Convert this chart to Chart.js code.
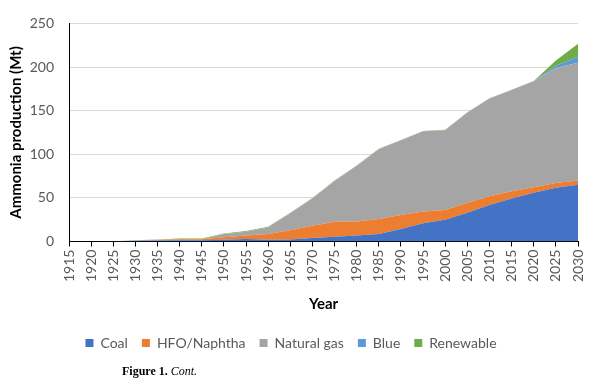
<!DOCTYPE html>
<html>
<head>
<meta charset="utf-8">
<script src="https://cdn.jsdelivr.net/npm/chart.js@4"></script>
<style>
    body { margin: 0; background: #ffffff; }
    #wrap { position: relative; width: 600px; height: 384px; }
    #caption {
        position: absolute; left: 122px; top: 364px;
        font-family: "Liberation Serif", "DejaVu Serif", serif; font-size: 12px; color: #000;
    }
</style>
</head>
<body>
<div id="wrap">
    <canvas id="ammoniaChart" width="600" height="384"></canvas>
    <div id="caption"><b>Figure 1.</b> <i>Cont.</i></div>
</div>
<script>
// values (Mt), stacked bottom to top
const years = [1915, 1920, 1925, 1930, 1935, 1940, 1945, 1950, 1955, 1960, 1965, 1970,
               1975, 1980, 1985, 1990, 1995, 2000, 2005, 2010, 2015, 2020, 2025, 2030];
const coal = [0, 0, 0.2, 0.8, 1.2, 1.5, 1.5, 2, 3, 1.9, 2.3, 4.1,
              5.6, 6.8, 8.7, 14.3, 21, 24.9, 33, 41.8, 49.4, 55.8, 61.5, 65.2];
const hfoNaphtha = [0, 0, 0, 0.2, 0.4, 1, 1, 3, 3.8, 6.8, 10.7, 13.9,
                    17, 16.2, 17, 16.2, 13.3, 11.3, 11.5, 10.2, 8.3, 6.4, 5.5, 4.6];
const naturalGas = [0, 0, 0, 0.2, 0.3, 0.4, 0.5, 3.5, 4.4, 7.5, 19.3, 31.4,
                    46.9, 63.5, 80, 85.5, 92, 91.3, 103.5, 112, 116, 121.8, 132, 135];
const blue = [0, 0, 0, 0, 0, 0, 0, 0, 0, 0, 0, 0,
              0, 0, 0, 0, 0, 0, 0, 0, 0, 0, 2.5, 7];
const renewable = [0, 0, 0, 0.3, 0.4, 0.5, 0.5, 0.7, 0.8, 0.8, 0.7, 0.6,
                   0.5, 0.5, 0.5, 0.5, 0.5, 0.5, 0.3, 0.2, 0.2, 0, 6, 15];

const seriesConfigs = [
    { label: "Coal", values: coal, color: "#4472C4" },
    { label: "HFO/Naphtha", values: hfoNaphtha, color: "#ED7D31" },
    { label: "Natural gas", values: naturalGas, color: "#A5A5A5" },
    { label: "Blue", values: blue, color: "#5B9BD5" },
    { label: "Renewable", values: renewable, color: "#70AD47" }
];

document.addEventListener("DOMContentLoaded", function () {
    const ctx = document.getElementById("ammoniaChart").getContext("2d");

    const datasets = seriesConfigs.map((s, i) => ({
        label: s.label,
        data: years.map((y, j) => ({ x: y, y: s.values[j] })),
        backgroundColor: s.color,
        borderColor: s.color,
        borderWidth: 0,
        pointRadius: 0,
        fill: i === 0 ? "origin" : "-1",
        tension: 0
    }));

    new Chart(ctx, {
        type: "line",
        data: { datasets: datasets },
        options: {
            responsive: false,
            animation: false,
            layout: { padding: { top: 7, right: 22, left: 4, bottom: 24 } },
            plugins: {
                tooltip: { enabled: false },
                legend: {
                    position: "bottom",
                    labels: {
                        boxWidth: 8,
                        boxHeight: 8,
                        padding: 14,
                        color: "#595959",
                        font: { family: "Lato", size: 14 }
                    }
                }
            },
            scales: {
                x: {
                    type: "linear",
                    min: 1915,
                    max: 2030,
                    afterFit: scale => { scale.height += 4; },
                    ticks: {
                        stepSize: 5,
                        minRotation: 90,
                        maxRotation: 90,
                        padding: 3,
                        color: "#595959",
                        font: { family: "Lato", size: 14 },
                        callback: v => String(v)
                    },
                    grid: { drawOnChartArea: false, color: "#000000", tickLength: 5 },
                    border: { color: "#000000" },
                    title: {
                        display: true,
                        text: "Year",
                        color: "#000000",
                        font: { family: "Lato", size: 15, weight: "bold" },
                        padding: { top: 6, bottom: 9 }
                    }
                },
                y: {
                    stacked: true,
                    min: 0,
                    max: 250,
                    afterFit: scale => { scale.width = 65; },
                    ticks: {
                        stepSize: 50,
                        padding: 15,
                        color: "#595959",
                        font: { family: "Lato", size: 14 }
                    },
                    grid: { color: "#D9D9D9", drawTicks: false },
                    border: { color: "#000000" },
                    title: {
                        display: true,
                        text: "Ammonia production (Mt)",
                        color: "#000000",
                        font: { family: "Lato", size: 15, weight: "bold" },
                        padding: { top: 3, bottom: 4 }
                    }
                }
            }
        }
    });
});
</script>
</body>
</html>
